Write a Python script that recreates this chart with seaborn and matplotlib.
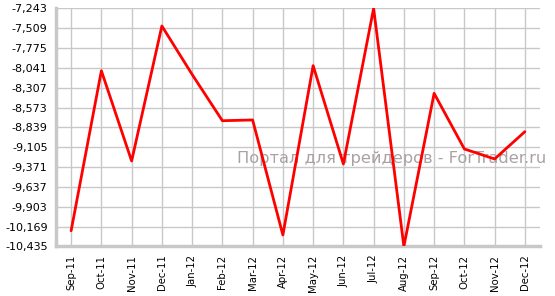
import matplotlib
matplotlib.use("Agg")
import matplotlib.pyplot as plt
import seaborn as sns
import pandas as pd
import numpy as np

months = ["Sep-11", "Oct-11", "Nov-11", "Dec-11", "Jan-12", "Feb-12", "Mar-12", "Apr-12",
          "May-12", "Jun-12", "Jul-12", "Aug-12", "Sep-12", "Oct-12", "Nov-12", "Dec-12"]
values = [-10.225, -8.080, -9.290, -7.480, -8.130, -8.750, -8.740, -10.282,
          -8.012, -9.330, -7.245, -10.435, -8.383, -9.129, -9.263, -8.897]
ytick_values = [-7.243, -7.509, -7.775, -8.041, -8.307, -8.573, -8.839, -9.105,
                -9.371, -9.637, -9.903, -10.169, -10.435]
ytick_labels = ["-7,243", "-7,509", "-7,775", "-8,041", "-8,307", "-8,573", "-8,839", "-9,105",
                "-9,371", "-9,637", "-9,903", "-10,169", "-10,435"]
watermark = "Портал для трейдеров - ForTrader.ru"

df = pd.DataFrame({"idx": np.arange(len(months)), "value": values})

sns.set_style("white")
plt.rcParams['font.family'] = ['Verdana', 'DejaVu Sans']

fig = plt.figure(figsize=(5.55, 2.96), dpi=100)
ax = fig.add_axes([56 / 555, 1 - 246.4 / 296, (540 - 56) / 555, (246.4 - 8.3) / 296])

sns.lineplot(data=df, x="idx", y="value", ax=ax, color="#ff0000", linewidth=2.0, zorder=3)

ax.set_xlim(-0.5, len(months) - 0.5)
ax.set_ylim(ytick_values[-1], ytick_values[0])
ax.set_xticks(np.arange(len(months)))
ax.set_xticklabels(months, rotation=90, fontsize=7.3, color="#000000")
ax.set_yticks(ytick_values)
ax.set_yticklabels(ytick_labels, fontsize=8, color="#000000")
ax.set_xlabel("")
ax.set_ylabel("")

ax.grid(True, color="#c8c8c8", linewidth=1.0)
ax.set_axisbelow(True)
for s in ["top", "right"]:
    ax.spines[s].set_visible(False)
for s in ["left", "bottom"]:
    ax.spines[s].set_color("#c8c8c8")
    ax.spines[s].set_linewidth(2.5)
ax.tick_params(axis="both", which="both", length=4, width=1, color="#c8c8c8", pad=2)

ax.text(237 / 555, 1 - 158 / 296, watermark, fontsize=11.7, color="#aaa2a2",
        ha="left", va="center", family=["DejaVu Sans"], zorder=2,
        transform=fig.transFigure, clip_on=False)

fig.savefig("out.png", dpi=100)
